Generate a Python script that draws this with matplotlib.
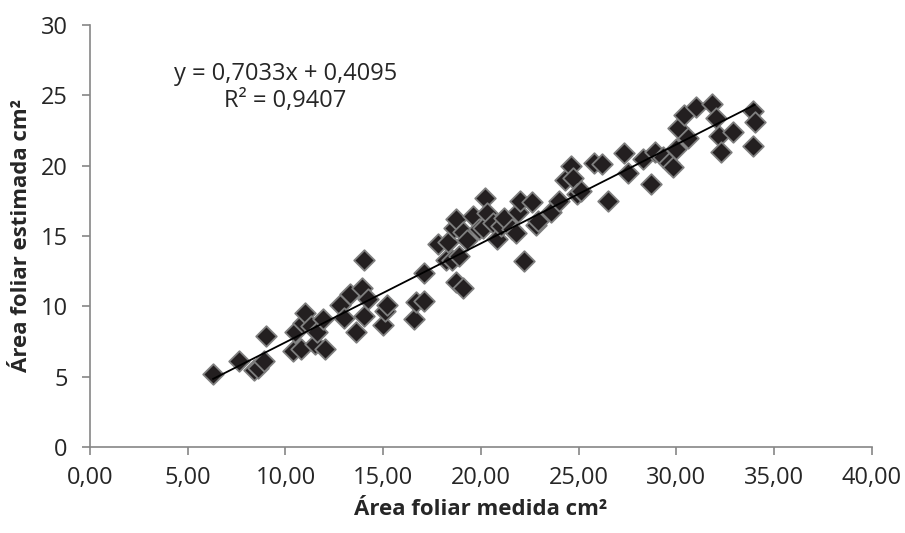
import matplotlib.pyplot as plt

plt.rcParams['font.family'] = ['Open Sans', 'DejaVu Sans']

# measured leaf area (x) and estimated leaf area (y), cm2
medida = [6.3, 7.6, 8.4, 8.6, 8.9, 9.0, 10.4, 10.5, 10.8, 10.9, 11.0, 11.3, 11.5, 11.6,
          11.9, 12.0, 12.8, 13.0, 13.3, 13.6, 13.9, 14.0, 14.0, 14.2, 15.0, 15.1, 15.2,
          16.6, 16.7, 17.1, 17.1, 17.8, 18.2, 18.3, 18.5, 18.6, 18.7, 18.7, 18.9, 19.1,
          19.1, 19.3, 19.6, 19.9, 20.1, 20.2, 20.3, 20.6, 20.8, 21.0, 21.2, 21.6, 21.8,
          21.9, 22.0, 22.2, 22.6, 22.8, 22.9, 23.6, 24.0, 24.3, 24.6, 24.7, 24.9, 25.1,
          25.8, 26.2, 26.5, 27.3, 27.5, 28.3, 28.7, 28.9, 29.3, 29.6, 29.8, 30.0, 30.1,
          30.4, 30.6, 31.0, 31.8, 32.0, 32.2, 32.3, 32.9, 33.9, 33.9, 34.0]
estimada = [5.2, 6.1, 5.5, 5.6, 6.1, 7.9, 6.8, 8.2, 7.0, 8.8, 9.5, 8.6, 7.3, 8.2,
            9.1, 7.0, 10.1, 9.2, 10.9, 8.2, 11.3, 9.3, 13.3, 10.5, 8.7, 9.7, 10.1,
            9.1, 10.3, 10.4, 12.4, 14.4, 13.3, 14.6, 13.3, 15.6, 16.2, 11.7, 13.6, 11.3,
            15.3, 14.7, 16.4, 15.5, 15.6, 17.7, 16.6, 15.9, 14.8, 15.7, 16.3, 15.5, 15.2,
            16.7, 17.5, 13.2, 17.4, 15.8, 16.1, 16.7, 17.5, 19.0, 20.0, 19.1, 18.0, 18.2,
            20.2, 20.1, 17.5, 20.9, 19.5, 20.5, 18.7, 21.0, 20.6, 20.2, 19.9, 21.2, 22.7,
            23.6, 22.0, 24.2, 24.4, 23.4, 22.1, 21.0, 22.4, 23.9, 21.4, 23.1]

slope = 0.7033
intercept = 0.4095
txt = '#262626'

fig = plt.figure(figsize=(9.05, 5.33), dpi=100)
ax = fig.add_axes([0.0994, 0.1614, 0.8641, 0.7917])

ax.scatter(medida, estimada, marker='D', s=110, color='#231f20',
           edgecolors='#7f7f7f', linewidths=1.3, zorder=2)

# linear trend line
x_line = [min(medida), max(medida)]
y_line = [slope * v + intercept for v in x_line]
ax.plot(x_line, y_line, color='black', linewidth=1.3, zorder=3)

ax.text(10.0, 26.5, 'y = 0,7033x + 0,4095', ha='center', va='center', fontsize=17, color=txt)
ax.text(10.0, 24.6, 'R² = 0,9407', ha='center', va='center', fontsize=17, color=txt)

ax.set_xlim(0, 40)
ax.set_ylim(0, 30)
ax.set_xticks(range(0, 41, 5))
ax.set_xticklabels(['%d,00' % v for v in range(0, 41, 5)])
ax.set_yticks(range(0, 31, 5))

for side in ['top', 'right']:
    ax.spines[side].set_visible(False)
for side in ['left', 'bottom']:
    ax.spines[side].set_color('#868686')
    ax.spines[side].set_linewidth(1.2)
ax.tick_params(direction='out', length=6, width=1.2, color='#868686',
               labelsize=17, labelcolor=txt)
ax.tick_params(axis='x', pad=8)
ax.tick_params(axis='y', pad=10)

ax.set_xlabel('Área foliar medida cm²', fontsize=16, fontweight='bold', color=txt, labelpad=6)
ax.set_ylabel('Área foliar estimada cm²', fontsize=16, fontweight='bold', color=txt, labelpad=6)

fig.savefig('out.png', dpi=100)
